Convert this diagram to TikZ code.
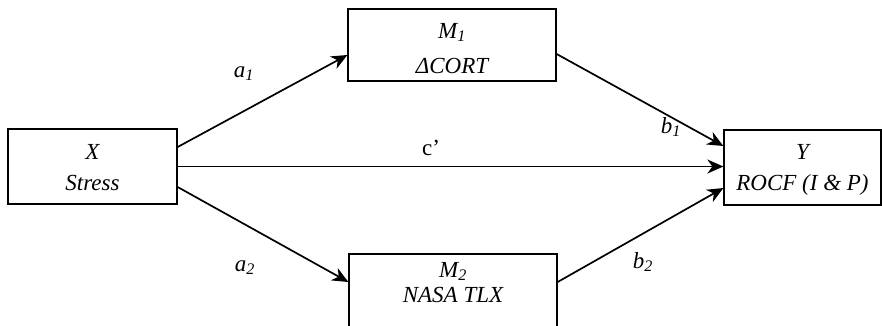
\documentclass[tikz,border=0pt]{standalone}
\usepackage{fontspec}
\setmainfont{Liberation Serif}
\usetikzlibrary{arrows.meta}
\begin{document}
\begin{tikzpicture}[x=1pt,y=-1pt,
  box/.style={draw, line width=1.3pt, inner sep=0pt},
  lbl/.style={font=\fontsize{23}{27}\selectfont\itshape, inner sep=0pt, anchor=base},
  plain/.style={font=\fontsize{23}{27}\selectfont, inner sep=0pt, anchor=base},
  arr/.style={line width=1.7pt, -{Stealth[length=16pt,width=14pt,inset=5pt]}}]
\useasboundingbox (0,0) rectangle (882,325);
\clip (0,0) rectangle (882,325);
% boxes
\node[box, minimum width=169pt, minimum height=75pt] (x) at (92.5,166.5) {};
\node[box, minimum width=157pt, minimum height=75pt] (y) at (802.5,167.5) {};
\node[box, minimum width=208pt, minimum height=72pt] (m1) at (452,45) {};
\node[box, minimum width=208pt, minimum height=76pt] (m2) at (453,292) {};
% box texts
\node[lbl] (xt1) at (92.5,159) {X};
\node[lbl] (xt2) at (92.5,190) {Stress};
\node[lbl] (yt1) at (802.5,159) {Y};
\node[lbl] (yt2) at (802.5,190) {ROCF (I \& P)};
\node[lbl] (m1t1) at (452,38) {M\textsubscript{1}};
\node[lbl] (m1t2) at (452,73) {ΔCORT};
\node[lbl] (m2t1) at (453,277) {M\textsubscript{2}};
\node[lbl] (m2t2) at (453,302) {NASA TLX};
% connectors
\draw[arr] ([yshift=19.5pt]x.east) -- ([yshift=-10pt]m1.west);
\draw[arr] (x.east) -- (x.east -| y.west);
\draw[arr] ([yshift=-20.5pt]x.east) -- ([yshift=10pt]m2.west);
\draw[arr] ([yshift=-9pt]m1.east) -- ([yshift=21.5pt]y.west);
\draw[arr] ([yshift=10pt]m2.east) -- ([yshift=-20.5pt]y.west);
% path labels
\node[lbl] (la1) at (244,77) {a\textsubscript{1}};
\node[lbl] (la2) at (245,271) {a\textsubscript{2}};
\node[lbl] (lb1) at (671,133) {b\textsubscript{1}};
\node[lbl] (lb2) at (643,268) {b\textsubscript{2}};
\node[plain] (lc) at (431,155) {c’};
\end{tikzpicture}
\end{document}
